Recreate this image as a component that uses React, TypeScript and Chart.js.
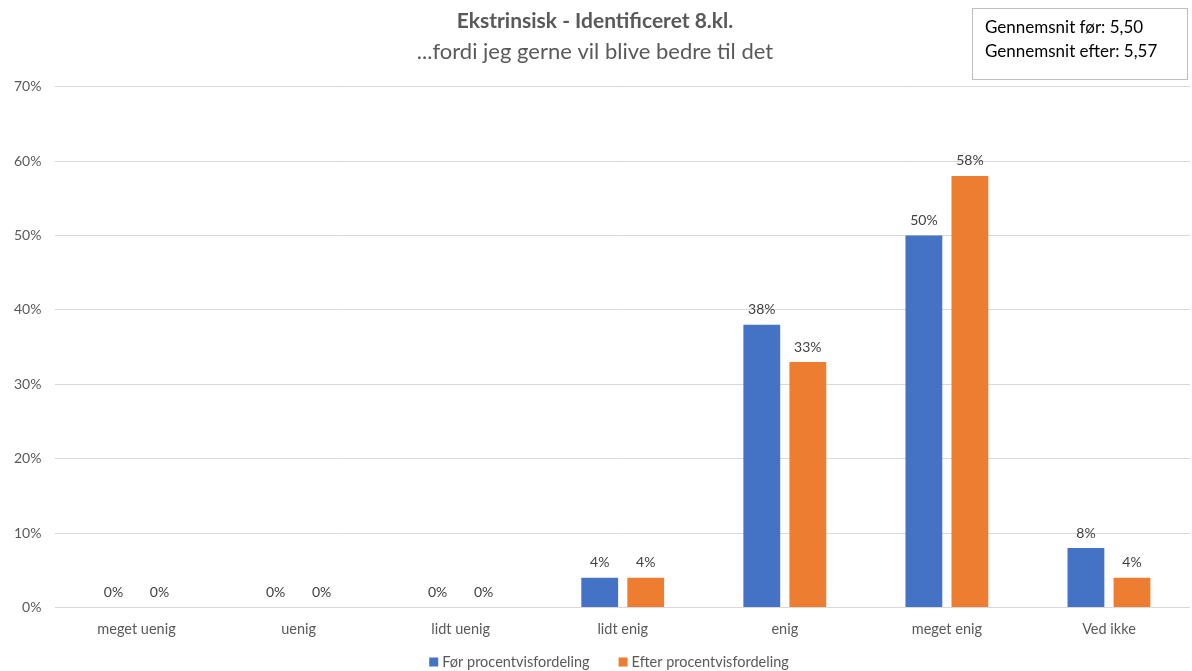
import React, { useEffect, useRef } from "react";
import { Chart, registerables } from "chart.js";

Chart.register(...registerables);

const categories = ["meget uenig", "uenig", "lidt uenig", "lidt enig", "enig", "meget enig", "Ved ikke"];
const beforeValues = [0, 0, 0, 4, 38, 50, 8];
const afterValues = [0, 0, 0, 4, 33, 58, 4];
const seriesNames = ["Før procentvisfordeling", "Efter procentvisfordeling"];
const seriesColors = ["#4472C4", "#ED7D31"];
const titleText = "Ekstrinsisk - Identificeret 8.kl.";
const subtitleText = "...fordi jeg gerne vil blive bedre til det";
const infoLines = ["Gennemsnit før: 5,50", "Gennemsnit efter: 5,57"];

const FONT = "Lato, 'Open Sans', sans-serif";

const dataLabelPlugin = {
  id: "dataLabels",
  afterDatasetsDraw(chart: any) {
    const ctx = chart.ctx;
    ctx.save();
    ctx.font = `14px ${FONT}`;
    ctx.fillStyle = "#404040";
    ctx.textAlign = "center";
    ctx.textBaseline = "bottom";
    chart.data.datasets.forEach((ds: any, i: number) => {
      const meta = chart.getDatasetMeta(i);
      meta.data.forEach((bar: any, j: number) => {
        ctx.fillText(`${ds.data[j]}%`, bar.x, bar.y - 8);
      });
    });
    ctx.restore();
  },
};

const bottomLegendPlugin = {
  id: "bottomLegend",
  afterDraw(chart: any) {
    const ctx = chart.ctx;
    ctx.save();
    ctx.font = `14.5px ${FONT}`;
    ctx.textBaseline = "middle";
    ctx.textAlign = "left";
    const box = 9;
    const gapBoxText = 4;
    const itemGap = 29;
    const items = chart.data.datasets.map((ds: any) => ({
      label: ds.label,
      color: ds.backgroundColor,
      w: box + gapBoxText + ctx.measureText(ds.label).width,
    }));
    const total = items.reduce((s: number, it: any) => s + it.w, 0) + itemGap * (items.length - 1);
    let x = 609 - total / 2;
    const y = 662;
    items.forEach((it: any) => {
      ctx.fillStyle = it.color;
      ctx.fillRect(x, y - box / 2, box, box);
      ctx.fillStyle = "#595959";
      ctx.fillText(it.label, x + box + gapBoxText, y);
      x += it.w + itemGap;
    });
    ctx.restore();
  },
};

export default function App() {
  const ref = useRef<HTMLCanvasElement>(null);
  useEffect(() => {
    if (!ref.current) return;
    const chart = new Chart(ref.current, {
      type: "bar",
      data: {
        labels: categories,
        datasets: [
          { label: seriesNames[0], data: beforeValues, backgroundColor: seriesColors[0] },
          { label: seriesNames[1], data: afterValues, backgroundColor: seriesColors[1] },
        ],
      },
      options: {
        responsive: false,
        animation: false,
        maintainAspectRatio: false,
        layout: { padding: { left: 0, right: 2, top: 0, bottom: 28 } },
        datasets: { bar: { categoryPercentage: 0.568, barPercentage: 0.8 } },
        plugins: {
          title: {
            display: true,
            text: titleText,
            color: "#595959",
            font: { family: FONT, size: 21, weight: "bold" },
            padding: { top: 9, bottom: 5 },
          },
          subtitle: {
            display: true,
            text: subtitleText,
            color: "#595959",
            font: { family: FONT, size: 22 },
            padding: { top: 0, bottom: 21 },
          },
          legend: { display: false },
          tooltip: { enabled: false },
        },
        scales: {
          x: {
            grid: { display: false },
            border: { display: false },
            ticks: { color: "#595959", font: { family: FONT, size: 14.5 }, padding: 5 },
          },
          y: {
            min: 0,
            max: 70,
            ticks: {
              stepSize: 10,
              color: "#595959",
              font: { family: FONT, size: 14 },
              padding: 14,
              callback: (v: any) => `${v}%`,
            },
            grid: { color: "#d9d9d9", drawTicks: false },
            border: { display: false },
          },
        },
      },
      plugins: [dataLabelPlugin, bottomLegendPlugin],
    });
    return () => chart.destroy();
  }, []);

  return (
    <div style={{ position: "absolute", left: 0, top: 0, width: 1192, height: 671, background: "#fff" }}>
      <canvas ref={ref} width={1192} height={671} style={{ display: "block" }} />
      <div
        style={{
          position: "absolute",
          left: 972,
          top: 8,
          width: 216,
          height: 72,
          border: "1px solid #bfbfbf",
          boxSizing: "border-box",
          fontFamily: FONT,
          fontSize: 17,
          color: "#000",
          padding: "6px 0 0 12px",
          lineHeight: "24px",
        }}
      >
        {infoLines.map((l) => (
          <div key={l}>{l}</div>
        ))}
      </div>
    </div>
  );
}
